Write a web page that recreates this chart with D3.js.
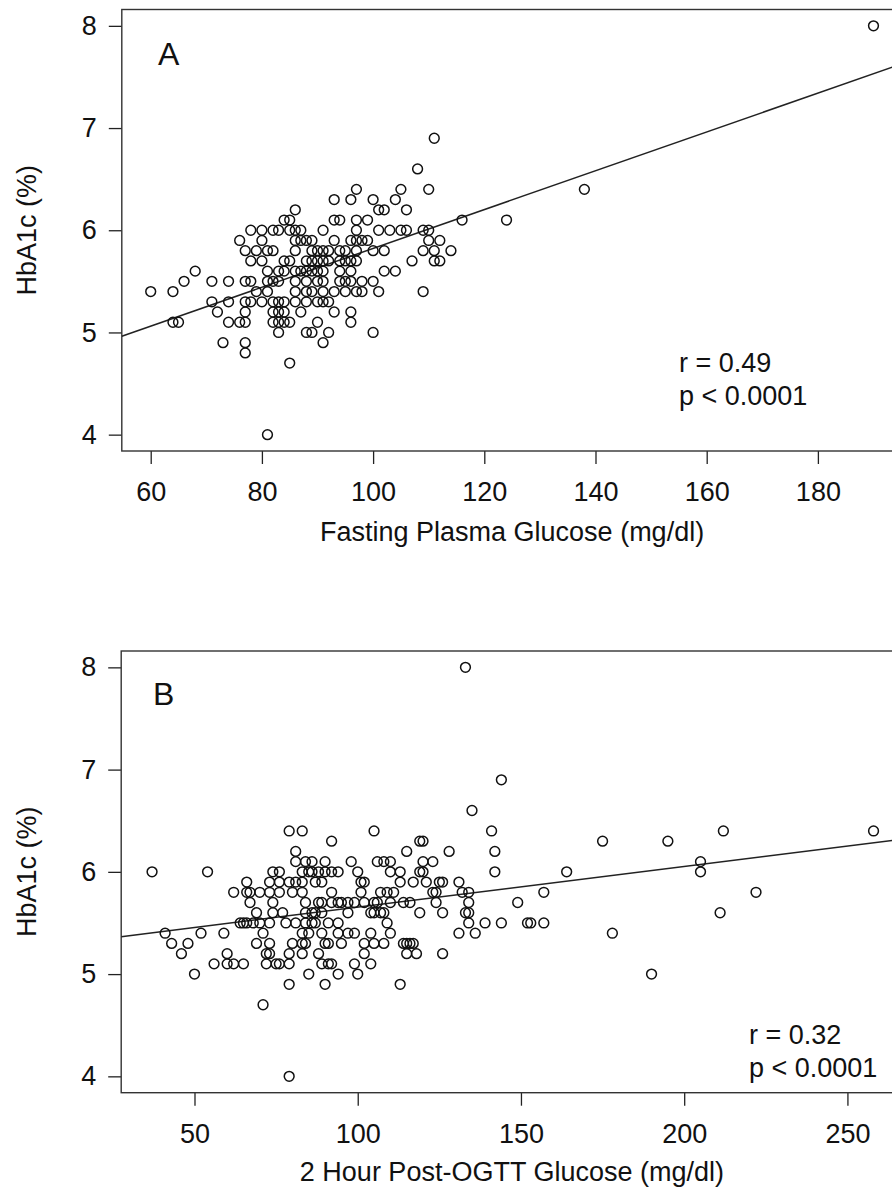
<!DOCTYPE html>
<html><head><meta charset="utf-8">
<script src="https://cdn.jsdelivr.net/npm/d3@7"></script>
<style>
body{margin:0;background:#fff;}
svg text{font-family:"Liberation Sans",Arial,sans-serif;fill:#111;}
</style>
</head><body>
<svg id="chart" width="892" height="1190"></svg>
<script>
// ---------- DATA ----------
const hba1cTicks = [4, 5, 6, 7, 8];
const fpgTicks = [60, 80, 100, 120, 140, 160, 180];
const ogttTicks = [50, 100, 150, 200, 250];

// Panel A: [Fasting Plasma Glucose (mg/dl), HbA1c (%)]
const fpgPoints = [
 [60,5.4],[64,5.4],[66,5.5],[68,5.6],[64,5.1],[65,5.1],[71,5.5],[71,5.3],[72,5.2],[73,4.9],
 [74,5.5],[74,5.3],[74,5.1],[76,5.9],[76,5.1],[77,5.1],[77,4.9],[77,4.8],[77,5.2],[77,5.3],
 [78,5.3],[77,5.5],[78,5.5],[78,6.0],[77,5.8],[78,5.7],[79,5.8],[80,6.0],[80,5.9],[80,5.7],
 [79,5.4],[80,5.3],[81,5.6],[81,5.5],[81,5.4],[82,6.0],[81,5.8],[82,5.8],[82,5.5],[82,5.3],
 [82,5.2],[82,5.1],[81,4.0],
 [83,6.0],[84,6.1],[84,5.7],[85,5.7],[83,5.6],[84,5.6],[83,5.5],[83,5.3],[84,5.3],[83,5.2],
 [84,5.2],[83,5.1],[84,5.1],[83,5.0],
 [111,6.9],[108,6.6],[97,6.4],[105,6.4],[110,6.4],
 [93,6.3],[96,6.3],[100,6.3],[104,6.3],
 [86,6.2],[101,6.2],[102,6.2],[106,6.2],
 [85,6.1],[93,6.1],[94,6.1],[97,6.1],[99,6.1],[116,6.1],
 [85,6.0],[86,6.0],[87,6.0],[91,6.0],[97,6.0],[101,6.0],[103,6.0],[105,6.0],[106,6.0],[109,6.0],[110,6.0],
 [86,5.9],[87,5.9],[88,5.9],[89,5.9],[93,5.9],[96,5.9],[97,5.9],[98,5.9],[99,5.9],[110,5.9],[112,5.9],
 [86,5.8],[89,5.8],[90,5.8],[91,5.8],[92,5.8],[94,5.8],[95,5.8],[97,5.8],[100,5.8],[102,5.8],[109,5.8],[111,5.8],[114,5.8],
 [88,5.7],[89,5.7],[90,5.7],[91,5.7],[92,5.7],[94,5.7],[95,5.7],[96,5.7],[97,5.7],[107,5.7],[111,5.7],[112,5.7],
 [86,5.6],[87,5.6],[88,5.6],[89,5.6],[90,5.6],[91,5.6],[94,5.6],[96,5.6],[102,5.6],[104,5.6],
 [86,5.5],[88,5.5],[90,5.5],[91,5.5],[94,5.5],[95,5.5],[96,5.5],[98,5.5],[100,5.5],
 [86,5.4],[88,5.4],[89,5.4],[91,5.4],[93,5.4],[95,5.4],[97,5.4],[98,5.4],[101,5.4],[109,5.4],
 [86,5.3],[88,5.3],[90,5.3],[91,5.3],[92,5.3],
 [87,5.2],[93,5.2],[96,5.2],
 [85,5.1],[90,5.1],[96,5.1],
 [88,5.0],[89,5.0],[92,5.0],[100,5.0],
 [91,4.9],[85,4.7],
 [124,6.1],[138,6.4],[190,8.0]
];

// Panel B: [2 Hour Post-OGTT Glucose (mg/dl), HbA1c (%)]
const ogttPoints = [
 [37,6.0],[54,6.0],[41,5.4],[43,5.3],[48,5.3],[46,5.2],[50,5.0],[52,5.4],[59,5.4],[56,5.1],
 [60,5.2],[60,5.1],[62,5.1],[65,5.1],[66,5.9],[62,5.8],[66,5.8],[67,5.8],[70,5.8],[73,5.8],
 [73,5.9],[74,6.0],[67,5.7],[74,5.7],[69,5.6],[74,5.6],[64,5.5],[65,5.5],[66,5.5],[68,5.5],
 [70,5.5],[73,5.5],[71,5.4],[69,5.3],[73,5.3],[72,5.2],[73,5.2],[72,5.1],[75,5.1],[71,4.7],
 [79,6.4],[76,6.0],[76,5.9],[79,5.9],[76,5.8],[77,5.6],[78,5.5],[80,5.3],[79,5.2],[76,5.1],
 [79,5.1],[79,4.9],[79,4.0],
 [135,6.6],[83,6.4],[105,6.4],
 [92,6.3],[119,6.3],[120,6.3],
 [81,6.2],[115,6.2],[128,6.2],
 [81,6.1],[84,6.1],[86,6.1],[90,6.1],[98,6.1],[106,6.1],[108,6.1],[110,6.1],[120,6.1],[123,6.1],
 [83,6.0],[85,6.0],[86,6.0],[88,6.0],[90,6.0],[92,6.0],[94,6.0],[100,6.0],[110,6.0],[113,6.0],[119,6.0],[120,6.0],
 [81,5.9],[83,5.9],[87,5.9],[89,5.9],[101,5.9],[102,5.9],[113,5.9],[117,5.9],[121,5.9],[125,5.9],[126,5.9],[131,5.9],
 [80,5.8],[83,5.8],[92,5.8],[101,5.8],[107,5.8],[109,5.8],[111,5.8],[123,5.8],[124,5.8],[132,5.8],[134,5.8],
 [84,5.7],[88,5.7],[89,5.7],[92,5.7],[94,5.7],[95,5.7],[97,5.7],[99,5.7],[102,5.7],[105,5.7],[106,5.7],[110,5.7],[114,5.7],[116,5.7],[124,5.7],[134,5.7],
 [84,5.6],[86,5.6],[87,5.6],[89,5.6],[97,5.6],[104,5.6],[105,5.6],[107,5.6],[108,5.6],[119,5.6],[126,5.6],[133,5.6],[134,5.6],
 [81,5.5],[84,5.5],[86,5.5],[87,5.5],[91,5.5],[94,5.5],[109,5.5],[134,5.5],
 [83,5.4],[85,5.4],[89,5.4],[94,5.4],[97,5.4],[99,5.4],[104,5.4],[110,5.4],[131,5.4],[136,5.4],
 [83,5.3],[84,5.3],[90,5.3],[91,5.3],[95,5.3],[102,5.3],[105,5.3],[108,5.3],[114,5.3],[115,5.3],[116,5.3],[117,5.3],
 [83,5.2],[88,5.2],[102,5.2],[115,5.2],[118,5.2],[126,5.2],
 [89,5.1],[91,5.1],[92,5.1],[99,5.1],[104,5.1],
 [85,5.0],[94,5.0],[100,5.0],
 [90,4.9],[113,4.9],
 [133,8.0],[144,6.9],[141,6.4],[212,6.4],[258,6.4],[175,6.3],[195,6.3],[142,6.2],[205,6.1],
 [142,6.0],[164,6.0],[205,6.0],[157,5.8],[222,5.8],[149,5.7],[211,5.6],[139,5.5],[144,5.5],
 [152,5.5],[153,5.5],[157,5.5],[178,5.4],[190,5.0]
];

// regression fits: [intercept, slope]
const fitA = [3.922, 0.0190];
const fitB = [5.256, 0.003987];
const statsA = ["r = 0.49", "p < 0.0001"];
const statsB = ["r = 0.32", "p < 0.0001"];

// ---------- DRAW ----------
const svg = d3.select("#chart");
const FS = 27;

function panel(cfg){
  const g = svg.append("g");
  const x = d3.scaleLinear().domain(cfg.xDomain).range(cfg.xRange);
  const y = d3.scaleLinear().domain([3.84, 8.16]).range(cfg.yRange);
  const clipId = "clip" + cfg.letter;
  g.append("clipPath").attr("id", clipId).append("rect")
    .attr("x", cfg.xRange[0]).attr("y", cfg.yRange[1])
    .attr("width", cfg.xRange[1]-cfg.xRange[0]).attr("height", cfg.yRange[0]-cfg.yRange[1]);

  // axes
  const ax = g.append("g").attr("transform", `translate(0,${cfg.yRange[0]})`)
    .call(d3.axisBottom(x).tickValues(cfg.xTicks).tickSize(13).tickPadding(18).tickFormat(d3.format("d")));
  const ay = g.append("g").attr("transform", `translate(${cfg.xRange[0]},0)`)
    .call(d3.axisLeft(y).tickValues(hba1cTicks).tickSize(13).tickPadding(12).tickFormat(d3.format("d")));
  [ax, ay].forEach(a => {
    a.select(".domain").remove();
    a.selectAll(".tick line").attr("stroke", "#222").attr("stroke-width", 1.3);
    a.selectAll(".tick text").attr("font-size", FS).attr("font-family", '"Liberation Sans",Arial,sans-serif').attr("fill", "#111");
  });

  // box
  g.append("rect").attr("x", cfg.xRange[0]).attr("y", cfg.yRange[1])
    .attr("width", cfg.xRange[1]-cfg.xRange[0]).attr("height", cfg.yRange[0]-cfg.yRange[1])
    .attr("fill", "none").attr("stroke", "#333").attr("stroke-width", 1.4);

  // regression line
  const inner = g.append("g").attr("clip-path", `url(#${clipId})`);
  inner.append("line")
    .attr("x1", x(cfg.xDomain[0])).attr("y1", y(cfg.fit[0] + cfg.fit[1]*cfg.xDomain[0]))
    .attr("x2", x(cfg.xDomain[1])).attr("y2", y(cfg.fit[0] + cfg.fit[1]*cfg.xDomain[1]))
    .attr("stroke", "#222").attr("stroke-width", 1.5);

  // points
  inner.selectAll("circle").data(cfg.points).join("circle")
    .attr("cx", d => x(d[0])).attr("cy", d => y(d[1])).attr("r", 4.9)
    .attr("fill", "none").attr("stroke", "#111").attr("stroke-width", 1.5);

  // titles
  g.append("text").attr("x", (cfg.xRange[0]+cfg.xRange[1])/2).attr("y", cfg.xTitleY)
    .attr("text-anchor", "middle").attr("font-size", FS).text(cfg.xTitle);
  const cy = (cfg.yRange[0]+cfg.yRange[1])/2;
  g.append("text").attr("transform", `translate(36,${cy}) rotate(-90)`)
    .attr("text-anchor", "middle").attr("font-size", FS).text("HbA1c (%)");

  // panel letter
  g.append("text").attr("x", cfg.letterPos[0]).attr("y", cfg.letterPos[1])
    .attr("font-size", 32).text(cfg.letter);

  // stats
  g.selectAll("text.stat").data(cfg.stats).join("text").attr("class", "stat")
    .attr("x", cfg.statPos[0]).attr("y", (d,i) => cfg.statPos[1] + i*33)
    .attr("font-size", FS).text(d => d);
}

panel({
  letter: "A", points: fpgPoints, fit: fitA, stats: statsA,
  xDomain: [54.8, 195.2], xRange: [121.8, 902.4], yRange: [451, 9.5],
  xTicks: fpgTicks, xTitle: "Fasting Plasma Glucose (mg/dl)", xTitleY: 541,
  letterPos: [158, 65], statPos: [679, 372]
});
panel({
  letter: "B", points: ogttPoints, fit: fitB, stats: statsB,
  xDomain: [27.55, 266.9], xRange: [121.2, 902.6], yRange: [1092.7, 651],
  xTicks: ogttTicks, xTitle: "2 Hour Post-OGTT Glucose (mg/dl)", xTitleY: 1181,
  letterPos: [153, 705], statPos: [749, 1044]
});
</script>
</body></html>
